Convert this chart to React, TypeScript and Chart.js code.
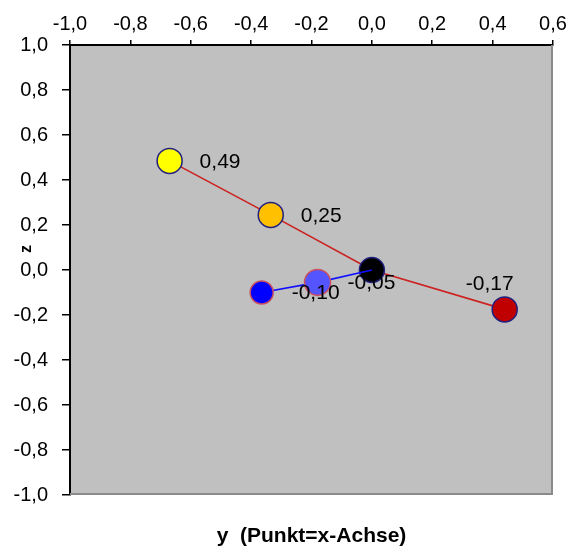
import React, { useEffect, useRef } from "react";
import { Chart, registerables } from "chart.js";

Chart.register(...registerables);

// Data
const redY = [-0.67, -0.335, 0.0, 0.44];
const redZ = [0.485, 0.245, 0.0, -0.175];
const redLabels = ["0,49", "0,25", "", "-0,17"];
const redColors = ["#ffff00", "#ffc000", "#000000", "#c00000"];

const blueY = [-0.365, -0.18, 0.0];
const blueZ = [-0.1, -0.055, 0.0];
const blueLabels = ["-0,10", "-0,05", ""];
const blueColors = ["#0000ff", "#5555ff", "#000000"];

const xTicksMin = -1.0;
const xTicksMax = 0.6;
const yTicksMin = -1.0;
const yTicksMax = 1.0;
const tickStep = 0.2;

const xTitle = "y  (Punkt=x-Achse)";
const yTitle = "z";

const FONT = "'Liberation Sans', Arial, sans-serif";

const fmt = (v: number) => {
  if (Math.abs(v) < 1e-9) return "0,0";
  return v.toFixed(1).replace(".", ",");
};

const plotPlugin = {
  id: "plotDecor",
  beforeDraw(chart: any) {
    const { ctx, chartArea: a } = chart;
    ctx.save();
    ctx.fillStyle = "#c0c0c0";
    ctx.fillRect(a.left, a.top, a.right - a.left, a.bottom - a.top);
    ctx.restore();
  },
  beforeDatasetsDraw(chart: any) {
    const { ctx, chartArea: a } = chart;
    ctx.save();
    ctx.strokeStyle = "#8a8a8a";
    ctx.lineWidth = 2;
    ctx.beginPath();
    ctx.moveTo(a.right - 1, a.top);
    ctx.lineTo(a.right - 1, a.bottom - 1);
    ctx.lineTo(a.left, a.bottom - 1);
    ctx.stroke();
    ctx.restore();
  },
  afterDatasetsDraw(chart: any) {
    const { ctx, chartArea: a } = chart;
    ctx.save();
    ctx.font = `21px ${FONT}`;
    ctx.fillStyle = "#000";
    ctx.textBaseline = "middle";
    chart.data.datasets.forEach((ds: any, di: number) => {
      const meta = chart.getDatasetMeta(di);
      const labels: string[] = ds.pointLabels || [];
      meta.data.forEach((pt: any, i: number) => {
        const txt = labels[i];
        if (!txt) return;
        const w = ctx.measureText(txt).width;
        let x = pt.x + 30;
        let y = pt.y + 1;
        if (x + w > a.right) {
          ctx.textAlign = "right";
          x = pt.x + 9;
          y = pt.y - 25;
        } else {
          ctx.textAlign = "left";
        }
        ctx.fillText(txt, x, y);
      });
    });
    // x axis title, centred under the plot area
    ctx.font = `bold 21px ${FONT}`;
    ctx.textAlign = "center";
    ctx.textBaseline = "middle";
    ctx.fillText(xTitle, (a.left + a.right) / 2, a.bottom + 41);
    // y axis title (rotated)
    ctx.font = `bold 16px ${FONT}`;
    ctx.translate(27, 249);
    ctx.rotate(-Math.PI / 2);
    ctx.fillText(yTitle, 0, 0);
    ctx.restore();
  },
};

export default function App() {
  const ref = useRef<HTMLCanvasElement | null>(null);

  useEffect(() => {
    document.body.style.margin = "0";
    const canvas = ref.current;
    if (!canvas) return;

    const redData = redY.map((y, i) => ({ x: y, y: redZ[i] }));
    const blueData = blueY.map((y, i) => ({ x: y, y: blueZ[i] }));

    const tickFont = { family: FONT, size: 20 };

    const chart = new Chart(canvas, {
      type: "scatter",
      data: {
        datasets: [
          {
            label: "red",
            data: redData,
            showLine: true,
            borderColor: "#cc2222",
            borderWidth: 1.7,
            pointBackgroundColor: redColors,
            pointBorderColor: "#202080",
            pointBorderWidth: 1.5,
            pointRadius: 12.5,
            order: 2,
            pointLabels: redLabels,
          } as any,
          {
            label: "blue",
            data: blueData,
            showLine: true,
            borderColor: "#1010ff",
            borderWidth: 1.7,
            pointBackgroundColor: blueColors,
            pointBorderColor: "#c85060",
            pointBorderWidth: 1.5,
            pointRadius: [11.5, 13, 0],
            order: 1,
            pointLabels: blueLabels,
          } as any,
        ],
      },
      options: {
        responsive: false,
        animation: false,
        devicePixelRatio: 1,
        layout: { padding: { left: 0, right: 18, top: 0, bottom: 54 } },
        plugins: {
          legend: { display: false },
          tooltip: { enabled: false },
        },
        scales: {
          x: {
            type: "linear",
            position: "top",
            min: xTicksMin,
            max: xTicksMax,
            afterFit: (s: any) => {
              s.height = 45;
            },
            ticks: {
              stepSize: tickStep,
              color: "#000",
              font: tickFont,
              padding: 4,
              maxRotation: 0,
              autoSkip: false,
              callback: (v: any) => fmt(Number(v)),
            },
            grid: {
              display: true,
              drawOnChartArea: false,
              drawTicks: true,
              tickLength: 5,
              color: "#000",
              lineWidth: 1.5,
            },
            border: { display: true, color: "#000", width: 2 },
          },
          y: {
            type: "linear",
            position: "left",
            min: yTicksMin,
            max: yTicksMax,
            afterFit: (s: any) => {
              s.width = 70;
            },
            ticks: {
              stepSize: tickStep,
              color: "#000",
              font: tickFont,
              padding: 14,
              autoSkip: false,
              callback: (v: any) => fmt(Number(v)),
            },
            grid: {
              display: true,
              drawOnChartArea: false,
              drawTicks: true,
              tickLength: 8,
              color: "#000",
              lineWidth: 1.5,
            },
            border: { display: true, color: "#000", width: 2 },
          },
        },
      } as any,
      plugins: [plotPlugin],
    });

    return () => {
      chart.destroy();
    };
  }, []);

  return (
    <div style={{ width: 571, height: 549, background: "#fff" }}>
      <canvas ref={ref} width={571} height={549} />
    </div>
  );
}
